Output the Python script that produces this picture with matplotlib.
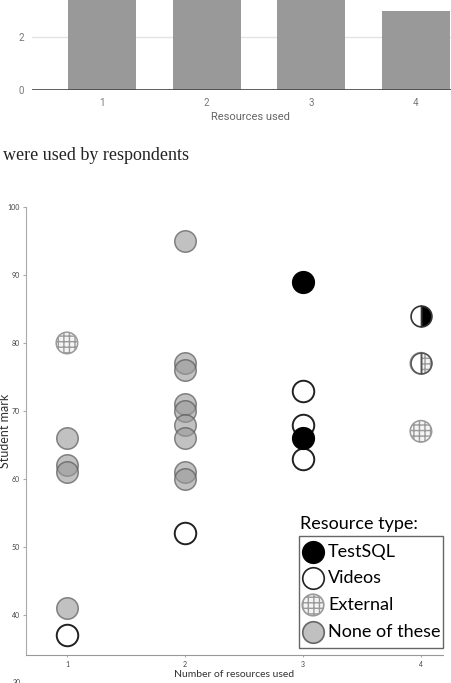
import matplotlib
matplotlib.use("Agg")
import matplotlib.pyplot as plt
from matplotlib.patches import Rectangle

W, H = 451, 683

# top bar chart (cut off at the top of the page)
bar_cats = [1, 2, 3, 4]
bar_counts = [6, 10, 5, 3]

# scatter: student mark by number of resources used, split by resource type
testsql_x = [3, 3]
testsql_y = [89, 66]
videos_x = [1, 2, 3, 3, 3]
videos_y = [37, 52, 73, 68, 63]
external_x = [1, 4]
external_y = [80, 67]
none_x = [1, 1, 1, 1, 2, 2, 2, 2, 2, 2, 2, 2, 2]
none_y = [66, 62, 61, 41, 95, 77, 76, 71, 70, 68, 66, 61, 60]
vid_test_x = [4]   # Videos + TestSQL
vid_test_y = [84]
vid_ext_x = [4]    # Videos + External
vid_ext_y = [77]

legend_labels = ["TestSQL", "Videos", "External", "None of these"]


def px(x, y):
    # pixel position (from top-left) -> figure fraction
    return x / W, 1 - y / H


plt.rcParams["hatch.linewidth"] = 1.0
fig = plt.figure(figsize=(W / 100, H / 100), dpi=100)

# ---- bar chart ----
ax1 = fig.add_axes([32 / W, 1 - 90 / H, (468 - 32) / W, 318 / H])
ax1.bar(bar_cats, bar_counts, width=0.65, color="#999999", zorder=2)
ax1.set_xlim(0.33, 4.5)
ax1.set_ylim(0, 12)
ax1.set_yticks([0, 2])
ax1.set_xticks(bar_cats)
ax1.grid(axis="y", color="#e3e3e3", lw=1, zorder=0)
ax1.axhline(0, color="#444444", lw=1.2, zorder=3)
for s in ax1.spines.values():
    s.set_visible(False)
ax1.tick_params(length=0, labelsize=7, labelcolor="#777777", pad=6)
for t in ax1.get_xticklabels() + ax1.get_yticklabels():
    t.set_fontfamily("Roboto")
ax1.set_xlabel("Resources used", fontsize=8, color="#666666", family="Roboto", labelpad=3)

fig.text(*px(3, 160), "were used by respondents", family="Liberation Serif",
         fontsize=13, color="#222222", va="baseline", ha="left")

# ---- scatter chart ----
ax2 = fig.add_axes([26 / W, 1 - 655 / H, (443 - 26) / W, 448 / H])
ax2.set_xlim(0.653, 4.187)
ax2.set_ylim(34.1, 100)
S = 240
none_style = dict(facecolor=(0.6, 0.6, 0.6, 0.6), edgecolor=(0.35, 0.35, 0.35, 0.7))
ext_style = dict(facecolor="#f4f4f4", edgecolor="#9a9a9a", hatch="+++")
ax2.scatter(none_x, none_y, s=S, linewidth=1.1, zorder=3, **none_style)
ax2.scatter(external_x + vid_ext_x, external_y + vid_ext_y, s=S, linewidth=1.1,
            zorder=3, **ext_style)
ax2.plot(vid_ext_x, vid_ext_y, ls="none", marker="o", markersize=15, fillstyle="left",
         markerfacecolor="white", markerfacecoloralt="none",
         markeredgecolor="#555555", markeredgewidth=1.1, zorder=4)
ax2.scatter(videos_x, videos_y, s=S, facecolor="white", edgecolor="#222222",
            linewidth=1.4, zorder=4)
ax2.scatter(testsql_x, testsql_y, s=S, facecolor="black", edgecolor="black",
            linewidth=1.2, zorder=5)
ax2.plot(vid_test_x, vid_test_y, ls="none", marker="o", markersize=15, fillstyle="right",
         markerfacecolor="black", markerfacecoloralt="white",
         markeredgecolor="#333333", markeredgewidth=1.2, zorder=5)

ax2.set_xticks([1, 2, 3, 4])
ax2.set_yticks(range(40, 101, 10))
ax2.spines["top"].set_visible(False)
ax2.spines["right"].set_visible(False)
ax2.spines["left"].set_color("#aaaaaa")
ax2.spines["bottom"].set_color("#999999")
ax2.tick_params(labelsize=5, labelcolor="#444444", color="#aaaaaa", length=2.5, pad=2)
ax2.tick_params(axis="x", length=1.5, pad=3)
for t in ax2.get_xticklabels() + ax2.get_yticklabels():
    t.set_fontfamily("Lato")
ax2.annotate("30", xy=(0, 30), xycoords=("axes fraction", "data"), xytext=(-4, 0),
             textcoords="offset points", ha="right", va="center", fontsize=5,
             color="#444444", family="Lato", annotation_clip=False)
ax2.set_xlabel("Number of resources used", fontsize=7.5, color="#333333", family="Lato", labelpad=1)
ax2.set_ylabel("Student mark", fontsize=9, color="#333333", family="Lato")
ax2.yaxis.set_label_coords(-0.036, 0.5)

# legend drawn by hand: title sits above the box
fig.text(*px(300, 529), "Resource type:", family="Lato", fontsize=13, va="baseline")
x0, y0 = px(299, 648)
ax2.add_patch(Rectangle((x0, y0), 144 / W, 112 / H, transform=fig.transFigure,
                        facecolor="white", edgecolor="#666666", lw=1, zorder=6,
                        clip_on=False))
rows = [552, 578, 605, 632]
styles = [
    dict(facecolor="black", edgecolor="black"),
    dict(facecolor="white", edgecolor="#222222"),
    ext_style,
    dict(facecolor="#c0c0c0", edgecolor="#666666"),
]
for yy, lab, st in zip(rows, legend_labels, styles):
    mx, my = px(313, yy)
    ax2.scatter([mx], [my], s=S, transform=fig.transFigure, clip_on=False,
                linewidth=1.2, zorder=7, **st)
    fig.text(*px(328, yy), lab, family="Lato", fontsize=13, va="center", zorder=8)

fig.savefig("out.png", dpi=100)
